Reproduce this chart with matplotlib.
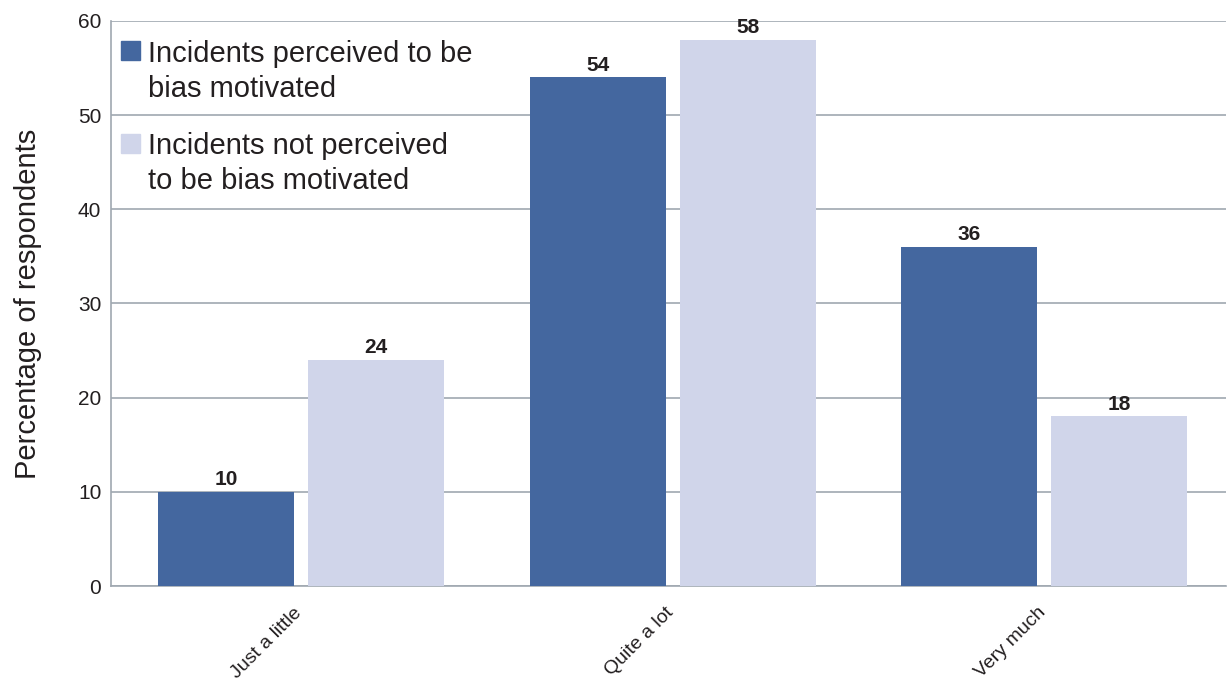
import numpy as np
import matplotlib.pyplot as plt
from matplotlib.patches import Rectangle

plt.rcParams['font.family'] = ['Liberation Sans', 'DejaVu Sans']

categories = ['Just a little', 'Quite a lot', 'Very much']
bias = [10, 54, 36]
not_bias = [24, 58, 18]
series_names = ['Incidents perceived to be\nbias motivated',
                'Incidents not perceived\nto be bias motivated']
dark = '#44679F'
light = '#D0D5EA'
grid_col = '#A0A8B0'
txt = '#231F20'

fig = plt.figure(figsize=(12.27, 6.81), dpi=100)
ax = fig.add_axes([0.0905, 0.1395, 0.909, 0.8297])

x = np.arange(len(categories))
w = 0.366
off = 0.2016
b1 = ax.bar(x - off, bias, w, color=dark, zorder=3)
b2 = ax.bar(x + off, not_bias, w, color=light, zorder=3)

for bars in (b1, b2):
    for r in bars:
        ax.annotate(f'{r.get_height():g}', (r.get_x() + r.get_width() / 2, r.get_height()),
                    xytext=(0, 2), textcoords='offset points', ha='center', va='bottom',
                    fontsize=15, fontweight='bold', color=txt)

ax.set_ylim(0, 60)
ax.set_xlim(-0.511, 2.49)
ax.set_yticks(range(0, 61, 10))
ax.yaxis.grid(True, color=grid_col, linewidth=1.2, zorder=0)
ax.set_axisbelow(True)
for s in ('top', 'right'):
    ax.spines[s].set_visible(False)
for s in ('left', 'bottom'):
    ax.spines[s].set_color(grid_col)
    ax.spines[s].set_linewidth(1.2)
ax.tick_params(axis='y', length=0, pad=7, labelsize=15, labelcolor=txt)
ax.tick_params(axis='x', length=0, pad=13, labelsize=14, labelcolor=txt)
ax.set_xticks(x + 0.012)
ax.set_xticklabels(categories, rotation=45, ha='right')
ax.set_ylabel('Percentage of respondents', fontsize=21, color=txt, labelpad=26)

# legend drawn by hand so the swatch sits on the first line of each label
sq_y = [0.9305, 0.7665]
base_y = [(0.9274, 0.8655), (0.7646, 0.7027)]
for col, name, sy, (y1, y2) in zip([dark, light], series_names, sq_y, base_y):
    ax.add_patch(Rectangle((0.009, sy), 0.017, 0.0335, transform=ax.transAxes,
                           color=col, clip_on=False, zorder=4))
    for line, yy in zip(name.split('\n'), (y1, y2)):
        ax.text(0.0332, yy, line, transform=ax.transAxes, fontsize=21,
                va='baseline', ha='left', color=txt, zorder=4)

fig.savefig('out.png', dpi=100)
